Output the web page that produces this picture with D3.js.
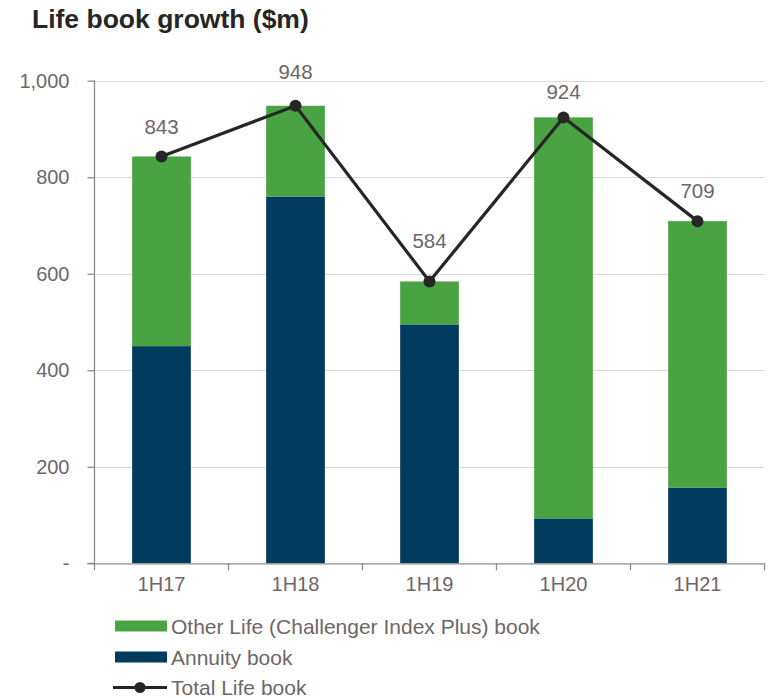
<!DOCTYPE html>
<html>
<head>
<meta charset="utf-8">
<script src="https://cdn.jsdelivr.net/npm/d3@7"></script>
<style>
  html, body { margin: 0; padding: 0; background: #fff; }
  svg { display: block; font-family: "Liberation Sans", Arial, sans-serif; }
</style>
</head>
<body>
<svg id="chart" width="769" height="698"></svg>
<script>
// Half-year periods
const periods = ["1H17", "1H18", "1H19", "1H20", "1H21"];
// Annuity book growth ($m)
const annuity = [450, 760, 495, 93, 157];
// Total Life book growth ($m)
const totalLife = [843, 948, 584, 924, 709];
// Other Life (Challenger Index Plus) = total less annuity
const otherLife = totalLife.map((t, i) => t - annuity[i]);
// Y axis ticks
const yTicks = [0, 200, 400, 600, 800, 1000];

// Layout: vertical gap between each total marker and its value label (px)
const labelGap = [30, 34, 41, 26, 31];

const colors = { other: "#4aa342", annuity: "#003a5c", line: "#262626", text: "#6f6668", grid: "#d9d9d9", axis: "#8c8c8c" };

const svg = d3.select("#chart");

const plotLeft = 94.5, plotRight = 764.5, plotTop = 80.7, plotBottom = 563.3;

const x = d3.scaleBand().domain(periods).range([plotLeft, plotRight])
  .paddingInner(0.562).paddingOuter(0.281);
const y = d3.scaleLinear().domain([0, 1000]).range([plotBottom, plotTop]);

// Title
svg.append("text")
  .attr("x", 32).attr("y", 27.5)
  .attr("font-size", 26.5).attr("font-weight", "bold")
  .attr("fill", "#262626")
  .text("Life book growth ($m)");

// Gridlines
svg.append("g").selectAll("line").data(yTicks.filter(d => d > 0)).join("line")
  .attr("x1", plotLeft).attr("x2", plotRight)
  .attr("y1", d => Math.round(y(d)) + 0.5).attr("y2", d => Math.round(y(d)) + 0.5)
  .attr("stroke", colors.grid).attr("stroke-width", 1.2);

// Stacked bars
const stackData = periods.map((p, i) => ({ period: p, annuity: annuity[i], other: otherLife[i] }));
const series = d3.stack().keys(["annuity", "other"])(stackData);
svg.append("g").selectAll("g").data(series).join("g")
  .attr("fill", d => d.key === "annuity" ? colors.annuity : colors.other)
  .selectAll("rect").data(d => d).join("rect")
  .attr("x", d => x(d.data.period))
  .attr("width", x.bandwidth())
  .attr("y", d => y(d[1]))
  .attr("height", d => y(d[0]) - y(d[1]));

// Y axis
const yAxis = d3.axisLeft(y).tickValues(yTicks).tickSize(7).tickPadding(18)
  .tickFormat(d => d === 0 ? "-" : d3.format(",")(d));
const gy = svg.append("g").attr("transform", `translate(${plotLeft},0)`).call(yAxis);
gy.select(".domain").attr("stroke", colors.axis).attr("stroke-width", 1.3).attr("d", `M-7,${plotBottom}H0V${plotTop - 0.5}`);
gy.selectAll(".tick line").attr("stroke", colors.axis).attr("stroke-width", 1.3);
gy.selectAll(".tick text").attr("fill", colors.text).attr("font-size", 20)
  .attr("font-family", "'Liberation Sans', Arial, sans-serif");

// X axis
const xAxis = d3.axisBottom(x).tickSize(0).tickPadding(14);
const gx = svg.append("g").attr("transform", `translate(0,${plotBottom})`).call(xAxis);
gx.select(".domain").attr("stroke", colors.axis).attr("stroke-width", 1.3);
gx.selectAll(".tick text").attr("fill", colors.text).attr("font-size", 20)
  .attr("font-family", "'Liberation Sans', Arial, sans-serif");
// Category boundary ticks
const step = x.step();
const bounds = d3.range(periods.length + 1).map(i => plotLeft + i * step);
gx.append("g").selectAll("line").data(bounds).join("line")
  .attr("x1", d => d).attr("x2", d => d).attr("y1", 0).attr("y2", 7)
  .attr("stroke", colors.axis).attr("stroke-width", 1.3);

// Total line
const cx = p => x(p) + x.bandwidth() / 2;
const line = d3.line().x((d, i) => cx(periods[i])).y(d => y(d));
svg.append("path").datum(totalLife)
  .attr("d", line).attr("fill", "none")
  .attr("stroke", colors.line).attr("stroke-width", 3.2);
svg.append("g").selectAll("circle").data(totalLife).join("circle")
  .attr("cx", (d, i) => cx(periods[i])).attr("cy", d => y(d)).attr("r", 6)
  .attr("fill", colors.line);

// Value labels
svg.append("g").selectAll("text").data(totalLife).join("text")
  .attr("x", (d, i) => cx(periods[i])).attr("y", (d, i) => y(d) - labelGap[i])
  .attr("text-anchor", "middle").attr("dominant-baseline", "central")
  .attr("font-size", 20.5).attr("fill", colors.text)
  .text(d => d);

// Legend
const legend = svg.append("g");
const legendItems = [
  { label: "Other Life (Challenger Index Plus) book", type: "bar", color: colors.other, y: 626 },
  { label: "Annuity book", type: "bar", color: colors.annuity, y: 657 },
  { label: "Total Life book", type: "line", color: colors.line, y: 687.5 }
];
legendItems.forEach(it => {
  if (it.type === "bar") {
    legend.append("rect").attr("x", 115).attr("y", it.y - 5.5).attr("width", 52).attr("height", 11).attr("fill", it.color);
  } else {
    legend.append("line").attr("x1", 113).attr("x2", 167).attr("y1", it.y).attr("y2", it.y)
      .attr("stroke", it.color).attr("stroke-width", 3.2);
    legend.append("circle").attr("cx", 140).attr("cy", it.y).attr("r", 5.5).attr("fill", it.color);
  }
  legend.append("text").attr("x", 171).attr("y", it.y).attr("dominant-baseline", "central")
    .attr("font-size", 21).attr("fill", colors.text).text(it.label);
});
</script>
</body>
</html>
